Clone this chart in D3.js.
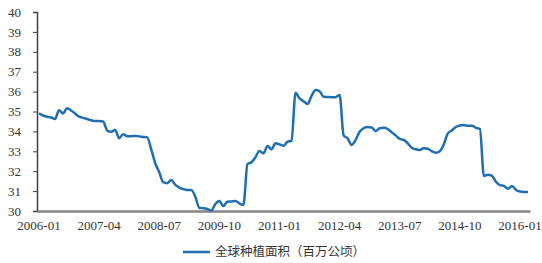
<!DOCTYPE html>
<html>
<head>
<meta charset="utf-8">
<script src="https://cdn.jsdelivr.net/npm/d3@7"></script>
<style>
  body { margin: 0; background: #fff; }
  svg { display: block; }
</style>
</head>
<body>
<svg id="chart"></svg>
<script>
// monthly categories 2006-01 .. 2016-03
var startYear = 2006, monthCount = 123;
var months = [];
for (var i = 0; i < monthCount; i++) {
    var y = startYear + Math.floor(i / 12), m = (i % 12) + 1;
    months.push(y + "-" + (m < 10 ? "0" + m : m));
}

var tickLabels = ["2006-01", "2007-04", "2008-07", "2009-10", "2011-01",
                  "2012-04", "2013-07", "2014-10", "2016-01"];
var yTicks = [30, 31, 32, 33, 34, 35, 36, 37, 38, 39, 40];
var seriesName = "全球种植面积（百万公顷）";

// global planted area
var area = [
    34.91, 34.80, 34.74, 34.70, 34.62, 35.06, 34.90, 35.16, 35.05, 34.90,
    34.74, 34.68, 34.62, 34.56, 34.52, 34.52, 34.50, 34.05, 33.98, 34.07,
    33.66, 33.86, 33.76, 33.76, 33.77, 33.75, 33.72, 33.70, 33.10, 32.40,
    31.95, 31.45, 31.40, 31.56, 31.31, 31.18, 31.10, 31.06, 31.06, 30.72,
    30.15, 30.14, 30.10, 30.02, 30.35, 30.50, 30.25, 30.47, 30.48, 30.50,
    30.38, 30.30, 32.35, 32.45, 32.70, 33.02, 32.90, 33.27, 33.10, 33.40,
    33.35, 33.28, 33.48, 33.52, 35.94, 35.66, 35.52, 35.38, 35.78, 36.08,
    36.02, 35.74, 35.73, 35.72, 35.72, 35.83, 33.80, 33.65, 33.32, 33.57,
    33.98, 34.16, 34.22, 34.20, 34.02, 34.16, 34.18, 34.12, 33.95, 33.80,
    33.62, 33.57, 33.40, 33.18, 33.10, 33.07, 33.15, 33.13, 33.00, 32.93,
    33.00, 33.35, 33.90, 34.05, 34.22, 34.30, 34.32, 34.28, 34.29, 34.18,
    34.12, 31.76, 31.82, 31.77, 31.47, 31.30, 31.26, 31.12, 31.26, 31.06,
    30.98, 30.96, 30.96
];

var width = 542, height = 263;
var margin = { top: 12, right: 12, bottom: 52, left: 37 };

var svg = d3.select("#chart")
    .attr("width", width)
    .attr("height", height);

var xScale = d3.scaleBand()
    .domain(months)
    .range([margin.left, width - margin.right]);

var yScale = d3.scaleLinear()
    .domain([30, 40])
    .range([height - margin.bottom, margin.top]);

var labelFont = "'Liberation Serif', 'DejaVu Serif', serif";

// y axis
var yAxis = svg.append("g")
    .attr("transform", "translate(" + margin.left + ",0)")
    .call(d3.axisLeft(yScale).tickValues(yTicks).tickSize(4).tickPadding(12));
yAxis.select(".domain").attr("stroke", "#404040").attr("stroke-width", 1.5);
yAxis.selectAll(".tick line").attr("stroke", "#404040");
yAxis.selectAll("text")
    .attr("font-family", labelFont)
    .attr("font-size", 13)
    .attr("fill", "#333");

// x axis
var xAxis = svg.append("g")
    .attr("transform", "translate(0," + (height - margin.bottom) + ")")
    .call(d3.axisBottom(xScale).tickValues(tickLabels).tickSize(0).tickPadding(10));
xAxis.select(".domain").attr("stroke", "#858585").attr("stroke-width", 2.5);
xAxis.selectAll("text")
    .attr("font-family", labelFont)
    .attr("font-size", 13)
    .attr("fill", "#333");

// series line
var line = d3.line()
    .x(function (d, i) { return xScale(months[i]) + xScale.bandwidth() / 2; })
    .y(function (d) { return yScale(d); })
    .curve(d3.curveMonotoneX);

svg.append("path")
    .datum(area)
    .attr("d", line)
    .attr("fill", "none")
    .attr("stroke", "#1f6eb0")
    .attr("stroke-width", 2.5)
    .attr("stroke-linejoin", "round");

// legend
var legend = svg.append("g").attr("transform", "translate(183,252)");
legend.append("line")
    .attr("x1", 0).attr("x2", 27)
    .attr("stroke", "#1f6eb0")
    .attr("stroke-width", 2.5);
legend.append("text")
    .attr("x", 32)
    .attr("dy", "0.35em")
    .attr("font-family", "'Noto Sans CJK SC', sans-serif")
    .attr("font-size", 12.5)
    .attr("fill", "#333")
    .text(seriesName);
</script>
</body>
</html>
